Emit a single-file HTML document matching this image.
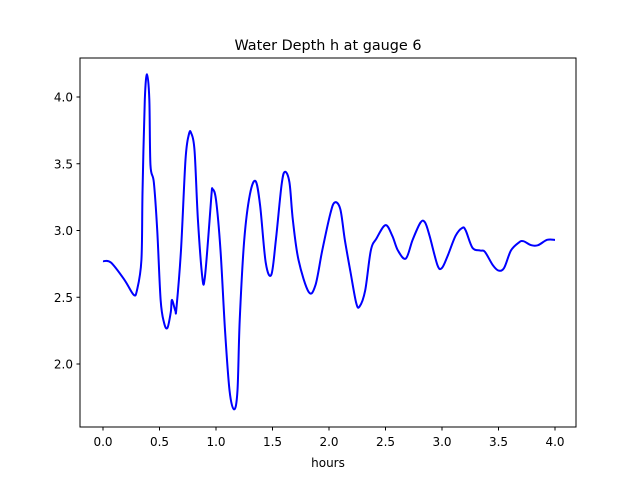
<!DOCTYPE html>
<html><head><meta charset="utf-8"><style>
body{margin:0;background:#fff}
svg text{font-family:"DejaVu Sans","Liberation Sans",sans-serif;fill:#000}
</style></head><body>
<svg id="chart" width="640" height="480" xmlns="http://www.w3.org/2000/svg">
<rect width="640" height="480" fill="#fff"/>
<text x="328" y="50" font-size="14.4" text-anchor="middle">Water Depth h at gauge 6</text>
<g id="xticks"></g>
<g id="yticks"></g>
<path id="line" fill="none" stroke="#0000ff" stroke-width="2" stroke-linejoin="round"/>
<rect x="80" y="58" width="496" height="369" fill="none" stroke="#000" stroke-width="1"/>
<text x="328" y="467" font-size="12" text-anchor="middle">hours</text>
</svg>
<script>
const hours=[0,0.07,0.19,0.27,0.30,0.34,0.35,0.37,0.39,0.41,0.42,0.45,0.48,0.51,0.54,0.57,0.60,0.61,0.64,0.65,0.69,0.73,0.76,0.78,0.81,0.84,0.88,0.90,0.93,0.96,0.97,1.00,1.04,1.08,1.12,1.16,1.19,1.21,1.25,1.30,1.35,1.39,1.44,1.49,1.53,1.58,1.61,1.65,1.68,1.73,1.82,1.88,1.94,2.01,2.05,2.10,2.14,2.19,2.24,2.27,2.32,2.37,2.42,2.50,2.56,2.61,2.68,2.74,2.81,2.85,2.89,2.96,3.00,3.05,3.12,3.18,3.21,3.27,3.34,3.38,3.45,3.50,3.55,3.61,3.68,3.72,3.79,3.85,3.93,4.0];
const depth=[2.77,2.76,2.63,2.52,2.55,2.78,3.30,3.98,4.17,3.98,3.49,3.36,3.0,2.48,2.31,2.27,2.39,2.48,2.40,2.42,2.85,3.53,3.72,3.73,3.60,3.08,2.64,2.64,2.93,3.27,3.31,3.23,2.85,2.25,1.80,1.66,1.80,2.33,2.93,3.27,3.37,3.19,2.76,2.67,2.93,3.34,3.44,3.36,3.08,2.78,2.54,2.59,2.85,3.12,3.21,3.16,2.93,2.69,2.46,2.43,2.55,2.85,2.94,3.04,2.96,2.85,2.79,2.93,3.06,3.06,2.96,2.74,2.72,2.81,2.96,3.02,3.0,2.87,2.85,2.84,2.74,2.70,2.72,2.85,2.91,2.92,2.89,2.89,2.93,2.93];
const xTicks=[0,0.5,1,1.5,2,2.5,3,3.5,4];
const xTickLabels=["0.0","0.5","1.0","1.5","2.0","2.5","3.0","3.5","4.0"];
const yTicks=[2,2.5,3,3.5,4];
const yTickLabels=["2.0","2.5","3.0","3.5","4.0"];
const X=v=>103+v*113, Y=v=>364-(v-2)*133.5;
const NS="http://www.w3.org/2000/svg";
const xg=document.getElementById('xticks'), yg=document.getElementById('yticks');
xTicks.forEach((t,i)=>{
  const l=document.createElementNS(NS,'line');
  
  
  l.setAttribute('x1',X(t));l.setAttribute('x2',X(t));l.setAttribute('y1',427);l.setAttribute('y2',430.5);l.setAttribute('stroke','#000');
  xg.appendChild(l);
  const tx=document.createElementNS(NS,'text');
  
  
  tx.setAttribute('x',X(t));tx.setAttribute('y',446);tx.setAttribute('font-size','12');tx.setAttribute('text-anchor','middle');
  tx.textContent=xTickLabels[i];xg.appendChild(tx);
});
yTicks.forEach((t,i)=>{
  const l=document.createElementNS(NS,'line');
  
  
  l.setAttribute('x1',76.5);l.setAttribute('x2',80);l.setAttribute('y1',Y(t));l.setAttribute('y2',Y(t));l.setAttribute('stroke','#000');
  yg.appendChild(l);
  const tx=document.createElementNS(NS,'text');
  
  
  tx.setAttribute('x',73);tx.setAttribute('y',Y(t)+4.5);tx.setAttribute('font-size','12');tx.setAttribute('text-anchor','end');
  tx.textContent=yTickLabels[i];yg.appendChild(tx);
});
const P=hours.map((h,i)=>[X(h),Y(depth[i])]);
let d='M'+P[0][0]+','+P[0][1];
for(let i=0;i<P.length-1;i++){
  const p0=P[Math.max(0,i-1)],p1=P[i],p2=P[i+1],p3=P[Math.min(P.length-1,i+2)];
  const c1=[p1[0]+(p2[0]-p0[0])/6,p1[1]+(p2[1]-p0[1])/6];
  const c2=[p2[0]-(p3[0]-p1[0])/6,p2[1]-(p3[1]-p1[1])/6];
  d+=` C${c1[0]},${c1[1]} ${c2[0]},${c2[1]} ${p2[0]},${p2[1]}`;
}
document.getElementById('line').setAttribute('d',d);
</script>
</body></html>
